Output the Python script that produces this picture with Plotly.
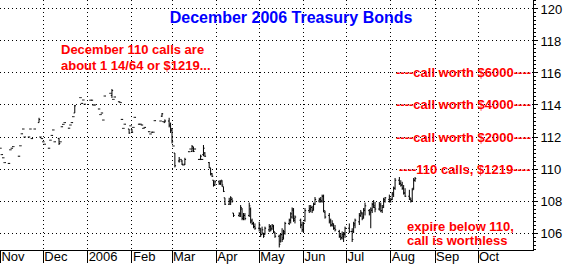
import pandas as pd
import plotly.graph_objects as go

# ---------------- data ----------------
holidays = ["2005-11-11", "2005-11-24", "2005-12-26", "2006-01-02", "2006-01-16",
            "2006-02-20", "2006-04-14", "2006-05-29", "2006-07-04"]
dates = [d for d in pd.bdate_range("2005-11-01", "2006-08-18")
         if d.strftime("%Y-%m-%d") not in holidays]

opens = [
    # Nov
    111.3, 110.9, 110.7, 110.4, 110.35, 111.2, 111.3, 111.4, 110.8, 111.45, 112.2, 112.5, 112.0, 112.0, 112.5, 111.9, 112.5, 112.9, 112.0, 111.9,
    # Dec
    111.7, 111.55, 111.3, 111.8, 112.1, 112.44, 111.7, 111.9, 111.7, 112.64, 112.79, 112.9, 112.55, 112.75, 112.9, 113.27, 113.5, 114.46, 114.1, 114.31, 114.05,
    # Jan
    114.3, 114.3, 114.0, 114.0, 113.75, 113.4, 113.5, 113.06, 114.56, 114.73, 114.6, 114.35, 114.5, 114.2, 114.15, 113.1, 112.54, 112.8, 112.5, 112.7,
    # Feb
    112.45, 112.6, 113.23, 112.8, 112.8, 112.75, 112.54, 112.6, 112.33, 112.19, 112.3, 112.3, 113.02, 113.0, 113.3, 112.96, 112.9, 113.0, 112.8,
    # Mar
    112.5, 111.44, 111.0, 110.5, 110.6, 110.5, 110.25, 110.3, 111.08, 111.25, 111.1, 111.3, 111.25, 110.6, 110.6, 110.6, 110.9, 111.0, 110.4, 110.06, 109.7, 109.3, 109.0,
    # Apr
    109.2, 109.1, 109.3, 108.9, 108.2, 107.8, 108.0, 108.1, 107.25, 107.1, 107.2, 107.5, 107.0, 107.1, 107.1, 107.5, 106.8, 106.6, 106.4,
    # May
    106.3, 106.3, 105.9, 106.0, 105.9, 106.2, 106.4, 106.3, 106.4, 106.0, 105.8, 105.5, 105.9, 105.7, 106.0, 106.6, 106.8, 107.0, 107.4, 106.8, 106.8, 106.5,
    # Jun
    106.2, 106.8, 107.4, 107.5, 107.6, 107.5, 107.8, 108.0, 108.1, 108.0, 108.3, 107.3, 107.1, 106.8, 106.5, 106.5, 106.3, 106.1, 105.8, 105.7, 105.8, 105.9,
    # Jul
    106.3, 106.1, 106.1, 106.5, 106.7, 107.1, 107.2, 107.0, 107.4, 107.4, 107.3, 107.4, 107.8, 107.6, 107.5, 107.7, 107.4, 107.7, 108.0, 108.1,
    # Aug
    108.0, 108.1, 108.4, 108.8, 109.3, 109.1, 109.0, 108.8, 108.5, 108.3, 108.1, 108.0, 108.8, 109.3,
]
highs = [
    111.3, 110.9, 110.7, 110.4, 110.35, 111.2, 111.3, 111.4, 110.8, 111.45, 112.2, 112.5, 112.0, 112.0, 112.5, 111.9, 112.5, 113.2, 112.0, 111.9,
    111.7, 111.55, 111.3, 111.8, 112.1, 112.44, 111.7, 111.95, 111.7, 112.64, 112.79, 112.9, 112.55, 112.75, 112.9, 113.27, 114.0, 114.46, 114.1, 114.31, 114.05,
    114.3, 114.3, 114.0, 114.0, 113.75, 113.4, 113.5, 113.06, 114.56, 114.73, 115.0, 114.35, 114.5, 114.2, 114.15, 113.1, 112.54, 112.8, 112.5, 112.7,
    112.5, 112.6, 113.23, 112.8, 112.8, 112.75, 112.54, 112.6, 112.33, 112.19, 112.3, 112.3, 113.02, 113.0, 113.5, 112.96, 113.1, 113.2, 112.9,
    112.56, 111.44, 111.0, 110.75, 110.6, 110.56, 110.25, 110.7, 111.08, 111.25, 111.5, 111.4, 111.25, 110.6, 110.9, 110.6, 111.5, 111.06, 110.44, 110.06, 109.75, 109.3, 109.3,
    109.3, 109.3, 109.3, 108.9, 108.2, 108.2, 108.3, 108.2, 107.25, 107.3, 107.75, 107.56, 107.25, 107.25, 107.9, 107.6, 106.9, 106.7, 106.6,
    106.7, 106.3, 106.4, 106.0, 106.4, 106.56, 106.5, 106.56, 106.5, 106.06, 105.9, 106.0, 106.3, 106.2, 106.7, 106.9, 107.3, 107.6, 107.56, 107.1, 106.9, 106.7,
    106.7, 107.56, 107.75, 107.75, 107.7, 107.9, 108.25, 108.2, 108.25, 108.4, 108.4, 107.4, 107.25, 106.9, 106.8, 106.6, 106.5, 106.2, 106.0, 106.1, 106.06, 106.4,
    106.6, 106.3, 106.7, 106.9, 107.25, 107.44, 107.3, 107.56, 107.9, 107.5, 107.6, 107.9, 108.06, 107.94, 107.94, 107.9, 107.75, 108.2, 108.25, 108.4,
    108.2, 108.56, 108.9, 109.44, 109.5, 109.3, 109.2, 109.0, 108.8, 108.7, 108.2, 108.8, 109.44, 109.5,
]
lows = [
    111.3, 110.9, 110.7, 110.4, 110.35, 111.2, 111.3, 111.4, 110.8, 111.45, 112.2, 112.5, 112.0, 112.0, 112.5, 111.9, 112.5, 112.9, 112.0, 111.9,
    111.7, 111.55, 111.3, 111.8, 112.1, 112.44, 111.7, 111.5, 111.7, 112.64, 112.79, 112.9, 112.55, 112.75, 112.9, 113.27, 113.5, 114.46, 114.1, 114.31, 114.05,
    114.3, 114.3, 114.0, 114.0, 113.75, 113.4, 113.5, 113.06, 114.56, 114.73, 114.44, 114.35, 114.5, 114.2, 114.15, 113.1, 112.54, 112.8, 112.2, 112.7,
    112.25, 112.6, 113.23, 112.8, 112.8, 112.75, 112.54, 112.6, 112.33, 112.19, 112.3, 112.3, 113.02, 113.0, 113.25, 112.96, 112.9, 112.6, 112.25,
    111.6, 111.44, 110.1, 110.4, 110.6, 110.25, 110.25, 110.25, 111.08, 111.25, 111.06, 111.06, 111.25, 110.6, 110.56, 110.6, 110.8, 110.75, 110.06, 109.6, 109.5, 108.9, 108.95,
    109.0, 109.0, 108.9, 108.56, 107.75, 107.75, 107.75, 107.9, 107.0, 107.0, 107.0, 106.8, 106.8, 106.8, 107.0, 106.6, 106.5, 106.3, 106.2,
    106.1, 105.75, 105.9, 105.7, 105.9, 106.06, 106.1, 106.2, 106.0, 105.7, 105.1, 105.4, 105.44, 105.6, 105.9, 106.5, 106.6, 106.9, 106.7, 106.6, 106.3, 106.06,
    106.06, 106.7, 107.25, 107.3, 107.25, 107.4, 107.75, 107.9, 107.9, 107.9, 107.3, 106.9, 106.6, 106.4, 106.4, 106.2, 106.1, 105.7, 105.56, 105.6, 105.44, 105.7,
    106.0, 105.44, 106.0, 106.3, 106.5, 107.0, 106.8, 106.9, 107.1, 107.1, 106.3, 107.25, 107.56, 107.3, 107.4, 107.3, 107.25, 107.56, 107.9, 107.9,
    107.9, 108.06, 108.25, 108.7, 109.0, 108.9, 108.7, 108.4, 108.25, 108.06, 107.9, 107.94, 108.7, 109.2,
]
closes = [
    111.3, 110.9, 110.7, 110.4, 110.35, 111.2, 111.3, 111.4, 110.8, 111.45, 112.2, 112.5, 112.0, 112.0, 112.5, 111.9, 112.5, 113.1, 112.0, 111.9,
    111.7, 111.55, 111.3, 111.8, 112.1, 112.44, 111.7, 111.6, 111.7, 112.64, 112.79, 112.9, 112.55, 112.75, 112.9, 113.27, 113.95, 114.46, 114.1, 114.31, 114.05,
    114.3, 114.3, 114.0, 114.0, 113.75, 113.4, 113.5, 113.06, 114.56, 114.73, 114.9, 114.35, 114.5, 114.2, 114.15, 113.1, 112.54, 112.8, 112.25, 112.7,
    112.3, 112.6, 113.23, 112.8, 112.8, 112.75, 112.54, 112.6, 112.33, 112.19, 112.3, 112.3, 113.02, 113.0, 113.45, 112.96, 113.0, 112.7, 112.4,
    111.7, 111.44, 110.2, 110.5, 110.6, 110.3, 110.25, 110.6, 111.08, 111.25, 111.4, 111.1, 111.25, 110.6, 110.8, 110.6, 111.3, 110.8, 110.1, 109.7, 109.55, 109.0, 109.2,
    109.1, 109.2, 109.0, 108.6, 107.8, 108.0, 108.2, 108.0, 107.1, 107.2, 107.6, 106.9, 107.1, 106.9, 107.7, 106.7, 106.6, 106.4, 106.3,
    106.5, 105.9, 106.2, 105.8, 106.3, 106.4, 106.2, 106.5, 106.1, 105.8, 105.3, 105.9, 105.6, 106.1, 106.6, 106.8, 107.2, 107.5, 106.9, 107.0, 106.5, 106.2,
    106.6, 107.4, 107.5, 107.6, 107.4, 107.8, 108.1, 108.1, 108.0, 108.3, 107.4, 107.0, 106.7, 106.5, 106.6, 106.3, 106.2, 105.8, 105.7, 105.9, 106.0, 106.3,
    106.1, 105.6, 106.6, 106.8, 107.1, 107.3, 106.9, 107.5, 107.7, 107.2, 107.5, 107.8, 107.7, 107.5, 107.8, 107.4, 107.6, 108.1, 108.2, 108.0,
    108.1, 108.5, 108.8, 109.3, 109.1, 109.0, 108.8, 108.5, 108.3, 108.2, 108.0, 108.7, 109.3, 109.4,
]

month_ticks = ["2005-11-01", "2005-12-01", "2006-01-01", "2006-02-01", "2006-03-01", "2006-04-01",
               "2006-05-01", "2006-06-01", "2006-07-01", "2006-08-01", "2006-09-01", "2006-10-01"]
month_labels = ["Nov", "Dec", "2006", "Feb", "Mar", "Apr", "May", "Jun", "Jul", "Aug", "Sep", "Oct"]

call_levels = [116, 114, 112, 110]
call_texts = ["----call worth $6000----", "----call worth $4000----",
              "----call worth $2000----", "----110 calls, $1219----"]

# ---------------- OHLC bars built from the data ----------------
tick = pd.Timedelta(hours=20)
xs, ys = [], []
for d, o, h, l, c in zip(dates, opens, highs, lows, closes):
    xs += [d - tick, d, None, d, d, None, d, d + tick, None]
    ys += [o, o, None, h, l, None, c, c, None]

fig = go.Figure()
fig.add_trace(go.Scatter(x=xs, y=ys, mode="lines",
                         line=dict(color="black", width=1), hoverinfo="skip"))

FONT = "Liberation Sans, Arial, sans-serif"
RED = "#FF0000"

fig.update_layout(
    width=563, height=265,
    margin=dict(l=0, r=30, t=0, b=15),
    paper_bgcolor="white", plot_bgcolor="white",
    showlegend=False,
    font=dict(family=FONT, size=13, color="black"),
    title=dict(text="<b>December 2006 Treasury Bonds</b>",
               x=0.517, xanchor="center", y=0.934, yanchor="middle",
               font=dict(family=FONT, size=16, color="#0000FF")),
)

fig.update_xaxes(
    type="date",
    range=["2005-10-31 17:00", "2006-11-08 11:00"],
    tickmode="array", tickvals=month_ticks, ticktext=month_labels,
    ticks="outside", ticklen=12, tickcolor="black", tickwidth=1,
    ticklabelposition="outside right", ticklabelstandoff=-6,
    tickfont=dict(family=FONT, size=13, color="black"),
    showline=True, linecolor="black", linewidth=1,
    showgrid=True, gridcolor="black", gridwidth=1, griddash="1px,3px",
    zeroline=False, automargin=False,
)
fig.update_yaxes(
    side="right",
    range=[104.94, 120.56],
    tickmode="linear", tick0=0, dtick=2,
    ticks="outside", ticklen=4, tickcolor="black", tickwidth=1,
    tickfont=dict(family=FONT, size=13, color="black"),
    showline=True, linecolor="black", linewidth=1,
    showgrid=True, gridcolor="black", gridwidth=1, griddash="1px,3px",
    minor=dict(tickmode="linear", tick0=0, dtick=0.25, ticks="outside",
               ticklen=2, tickcolor="black", showgrid=False),
    zeroline=False, automargin=False,
)

for lvl, txt in zip(call_levels, call_texts):
    fig.add_annotation(x=1.0, xref="paper", y=lvl, yref="y",
                       xanchor="right", yanchor="middle", showarrow=False,
                       text="<b>" + txt + "</b>",
                       font=dict(family=FONT, size=13, color=RED))

fig.add_annotation(x=0.111, xref="paper", y=1 - 50 / 250, yref="paper",
                   xanchor="left", yanchor="middle", showarrow=False,
                   text="<b>December 110 calls are</b>",
                   font=dict(family=FONT, size=13, color=RED))
fig.add_annotation(x=0.111, xref="paper", y=1 - 65 / 250, yref="paper",
                   xanchor="left", yanchor="middle", showarrow=False,
                   text="<b>about 1 14/64 or $1219...</b>",
                   font=dict(family=FONT, size=13, color=RED))
fig.add_annotation(x=0.759, xref="paper", y=1 - 226 / 250, yref="paper",
                   xanchor="left", yanchor="middle", showarrow=False,
                   text="<b>expire below 110,</b>",
                   font=dict(family=FONT, size=13, color=RED))
fig.add_annotation(x=0.759, xref="paper", y=1 - 240 / 250, yref="paper",
                   xanchor="left", yanchor="middle", showarrow=False,
                   text="<b>call is worthless</b>",
                   font=dict(family=FONT, size=13, color=RED))

fig.write_html("out.html")
